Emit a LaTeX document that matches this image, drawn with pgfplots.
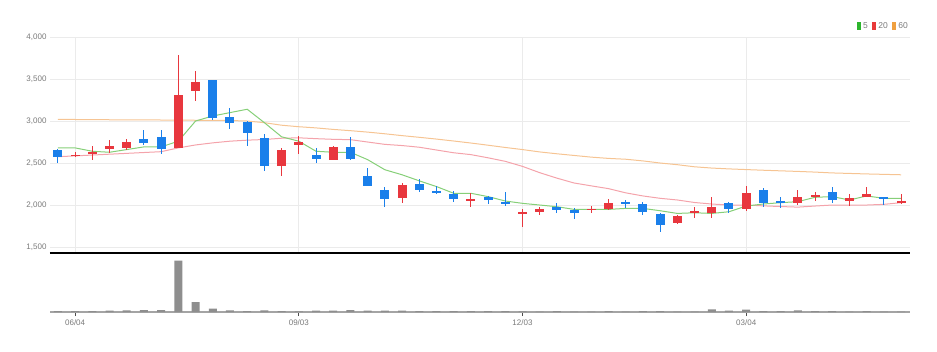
\documentclass[border=0pt]{standalone}
\usepackage{fontspec}
\setmainfont{Liberation Sans}
\usepackage{pgfplots}
\usepackage{pgfplotstable}
\pgfplotsset{compat=1.18}
\definecolor{upred}{HTML}{E8373E}
\definecolor{dnblue}{HTML}{1A7FEA}
\definecolor{mafive}{HTML}{86CF78}
\definecolor{matwenty}{HTML}{F4A3AB}
\definecolor{masixty}{HTML}{F6C493}
\definecolor{lgreen}{HTML}{2DB52D}
\definecolor{lred}{HTML}{E83A3A}
\definecolor{lorange}{HTML}{F0A040}
\definecolor{txt}{HTML}{7A7A7A}
\definecolor{gridc}{HTML}{EBEBEB}
\definecolor{volc}{HTML}{8E8E8E}

\pgfplotstableread{
i o h l c
1 2585 2630 2570 2600
2 2620 2708 2532 2626
3 2665 2770 2620 2700
4 2680 2785 2650 2755
7 2680 3780 2680 3310
8 3360 3590 3240 3460
13 2460 2680 2340 2660
14 2710 2820 2610 2745
16 2540 2700 2530 2690
20 2080 2260 2030 2235
24 2055 2140 1980 2065
27 1900 1955 1740 1910
28 1920 1980 1880 1950
31 1945 1990 1900 1955
32 1950 2070 1940 2020
36 1790 1880 1775 1870
37 1900 1980 1840 1930
38 1900 2100 1840 1980
40 1950 2230 1930 2140
43 2030 2180 2000 2100
44 2095 2150 2050 2125
46 2045 2130 1990 2085
47 2095 2220 2090 2130
49 2030 2130 2010 2045
}\uptable

\pgfplotstableread{
i o h l c
0 2660 2665 2500 2572
5 2780 2890 2720 2735
6 2810 2890 2610 2670
9 3485 3485 3010 3030
10 3050 3150 2910 2980
11 2990 3000 2700 2860
12 2800 2840 2410 2460
15 2600 2680 2500 2545
17 2690 2810 2540 2550
18 2350 2445 2225 2230
19 2175 2220 1980 2070
21 2250 2310 2150 2175
22 2165 2230 2130 2140
23 2130 2165 2040 2075
25 2095 2110 2010 2060
26 2040 2160 1990 2010
29 1980 2020 1900 1935
30 1940 1960 1830 1910
33 2030 2060 1960 2020
34 2010 2040 1880 1915
35 1890 1910 1680 1760
39 2030 2040 1900 1950
41 2180 2200 1975 2030
42 2045 2090 1960 2035
45 2150 2210 2030 2060
48 2095 2095 2000 2075
}\dntable

\pgfplotstableread{
i ma5 ma20 ma60 vol
0 2680 2575 3020 3
1 2680 2585 3018 3
2 2640 2595 3016 3
3 2628 2605 3015 4
4 2660 2615 3014 5
5 2692 2625 3013 6
6 2692 2635 3012 6
7 2760 2680 3010 155
8 3000 2715 3009 30
9 3060 2740 3008 10
10 3100 2760 3006 5
11 3140 2772 3000 3
12 2980 2780 2980 5
13 2812 2795 2950 3
14 2760 2800 2932 2
15 2640 2790 2918 4
16 2628 2782 2900 4
17 2628 2778 2885 6
18 2540 2750 2868 4
19 2420 2722 2848 4
20 2360 2708 2826 4
21 2288 2688 2806 3
22 2220 2655 2785 3
23 2140 2622 2762 3
24 2140 2600 2738 3
25 2100 2562 2712 3
26 2048 2520 2685 3
27 2020 2460 2660 2
28 2000 2385 2632 1
29 1980 2320 2610 3
30 1948 2262 2590 1
31 1948 2228 2570 1
32 1948 2195 2555 3
33 1960 2145 2545 1
34 1960 2108 2525 3
35 1932 2080 2500 3
36 1900 2060 2480 1
37 1908 2030 2455 1
38 1900 2012 2440 8
39 1920 2000 2430 4
40 1988 2000 2422 7
41 2012 1990 2414 3
42 2028 1982 2407 3
43 2040 1975 2400 5
44 2092 1988 2392 3
45 2100 2000 2382 3
46 2060 2000 2376 1
47 2108 2000 2370 3
48 2080 2008 2365 1
49 2080 2028 2360 1
}\matable

\begin{document}
\begin{tikzpicture}[font=\fontsize{8}{9}\selectfont]
\useasboundingbox (0,0) rectangle (937pt,351pt);
% main price axis
\begin{axis}[
  at={(50pt,98pt)}, anchor=south west,
  scale only axis, width=860pt, height=216pt,
  xmin=-0.46, xmax=49.52, ymin=1429, ymax=4000,
  axis x line*=bottom, axis y line*=left,
  x axis line style={black, line width=1.3pt, -},
  y axis line style={draw=none, -},
  xtick={1,14,27,40}, xticklabels={},
  ytick={1500,2000,2500,3000,3500,4000},
  major tick length=0pt,
  grid=major, major grid style={gridc, line width=0.8pt},
  yticklabel style={text=txt, /pgf/number format/1000 sep={,}},
  /pgf/number format/assume math mode=true,
  legend style={at={(1,1)}, anchor=south east, yshift=5pt, draw=none, fill=none,
    font=\fontsize{8.5}{9}\selectfont, text=txt, legend columns=-1,
    /tikz/every even column/.append style={column sep=2pt},
    inner sep=0pt},
  legend image code/.code={\fill (0pt,-3.5pt) rectangle (4.5pt,4.5pt);},
  clip=false,
]
\addlegendimage{fill=lgreen, draw=none}
\addlegendentry{5}
\addlegendimage{fill=lred, draw=none}
\addlegendentry{20}
\addlegendimage{fill=lorange, draw=none}
\addlegendentry{60}
\addplot[masixty, line width=1pt, forget plot] table[x=i, y=ma60] {\matable};
\addplot[matwenty, line width=1pt, forget plot] table[x=i, y=ma20] {\matable};
\addplot[mafive, line width=1pt, forget plot] table[x=i, y=ma5] {\matable};
% wicks
\addplot[draw=none, mark=none, forget plot,
  error bars/.cd, y dir=both, y explicit, error mark=none,
  error bar style={draw=upred, line width=1pt}]
  table[x=i, y expr=(\thisrow{h}+\thisrow{l})/2, y error expr=(\thisrow{h}-\thisrow{l})/2] {\uptable};
\addplot[draw=none, mark=none, forget plot,
  error bars/.cd, y dir=both, y explicit, error mark=none,
  error bar style={draw=dnblue, line width=1pt}]
  table[x=i, y expr=(\thisrow{h}+\thisrow{l})/2, y error expr=(\thisrow{h}-\thisrow{l})/2] {\dntable};
% bodies
\addplot[draw=none, mark=none, forget plot,
  error bars/.cd, y dir=both, y explicit, error mark=none,
  error bar style={draw=upred, line width=9pt}]
  table[x=i, y expr=(\thisrow{o}+\thisrow{c})/2, y error expr={max(abs(\thisrow{c}-\thisrow{o})/2,8)}] {\uptable};
\addplot[draw=none, mark=none, forget plot,
  error bars/.cd, y dir=both, y explicit, error mark=none,
  error bar style={draw=dnblue, line width=9pt}]
  table[x=i, y expr=(\thisrow{o}+\thisrow{c})/2, y error expr={max(abs(\thisrow{c}-\thisrow{o})/2,8)}] {\dntable};
\end{axis}
% volume axis
\begin{axis}[
  at={(50pt,39pt)}, anchor=south west,
  scale only axis, width=860pt, height=59pt,
  xmin=-0.46, xmax=49.52, ymin=0, ymax=178,
  axis x line*=bottom, axis y line=none,
  x axis line style={volc!80, line width=1.5pt, -},
  xtick={1,14,27,40}, xticklabels={06/04,09/03,12/03,03/04},
  xticklabel style={text=txt},
  xtick style={draw=black!70, line width=0.8pt},
  tick align=outside, major tick length=4pt,
  ytick=\empty,
]
\addplot[ybar, bar width=8pt, fill=volc, draw=none] table[x=i, y=vol] {\matable};
\end{axis}
\end{tikzpicture}
\end{document}
